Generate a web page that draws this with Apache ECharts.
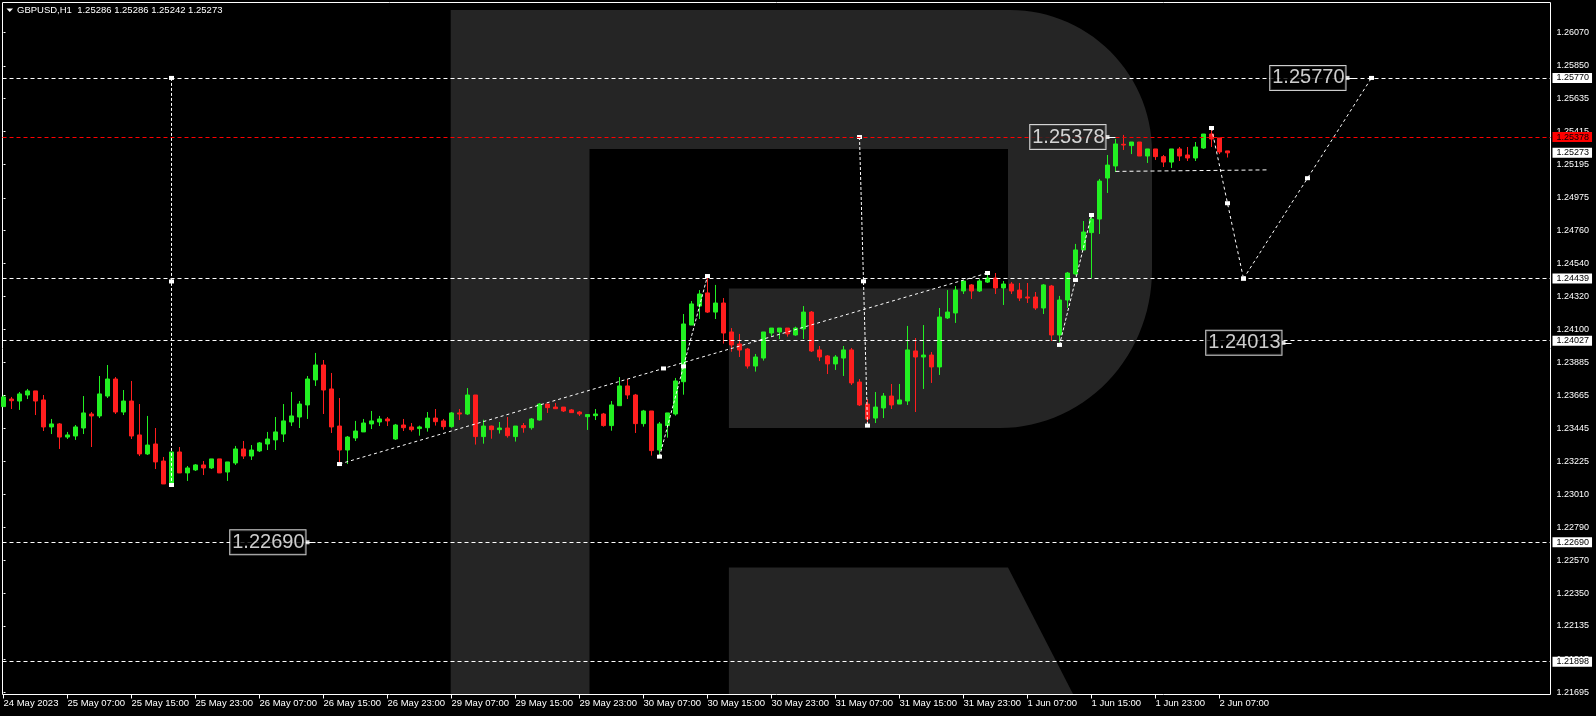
<!DOCTYPE html>
<html>
<head>
<meta charset="utf-8">
<script src="https://cdn.jsdelivr.net/npm/echarts@6.0.0/dist/echarts.min.js"></script>
<style>
html,body{margin:0;padding:0;background:#000;}
#chart{width:1596px;height:716px;}
</style>
</head>
<body>
<div id="chart"></div>
<script>
// ---------------- DATA ----------------
const symbolName = 'GBPUSD';
const timeframe = 'H1';

// x-axis tick labels, one every 8 hourly bars starting at bar 0 (24 May 2023 23:00)
const tickLabels = ['24 May 2023','25 May 07:00','25 May 15:00','25 May 23:00','26 May 07:00','26 May 15:00',
  '26 May 23:00','29 May 07:00','29 May 15:00','29 May 23:00','30 May 07:00','30 May 15:00','30 May 23:00',
  '31 May 07:00','31 May 15:00','31 May 23:00','1 Jun 07:00','1 Jun 15:00','1 Jun 23:00','2 Jun 07:00'];
const tickStep = 8;

// y-axis tick labels (as printed by the terminal)
const yTicks = [1.26070,1.25850,1.25635,1.25415,1.25195,1.24975,1.24760,1.24540,1.24320,1.24100,
  1.23885,1.23665,1.23445,1.23225,1.23010,1.22790,1.22570,1.22350,1.22135,1.21915,1.21695];

// hourly candles
const open = [
1.23590,1.23640,1.23627,1.23667,1.23694,1.23634,1.23455,1.23475,1.23388,1.23395,
1.23448,1.23541,1.23528,1.23660,1.23773,1.23554,1.23627,1.23402,1.23276,1.23342,
1.23229,1.23077,1.23289,1.23150,1.23170,1.23203,1.23183,1.23243,1.23156,1.23216,
1.23309,1.23262,1.23296,1.23342,1.23369,1.23408,1.23488,1.23521,1.23601,1.23767,
1.23866,1.23707,1.23461,1.23302,1.23382,1.23422,1.23475,1.23488,1.23508,1.23375,
1.23468,1.23455,1.23444,1.23450,1.23514,1.23495,1.23457,1.23548,1.23541,1.23667,
1.23391,1.23461,1.23437,1.23448,1.23391,1.23464,1.23450,1.23501,1.23607,1.23587,
1.23587,1.23568,1.23554,1.23523,1.23530,1.23541,1.23464,1.23596,1.23727,1.23667,
1.23477,1.23561,1.23302,1.23464,1.23541,1.23755,1.24131,1.24257,1.24344,1.24217,
1.24277,1.24085,1.24005,1.23972,1.23859,1.23912,1.24078,1.24085,1.24111,1.24065,
1.24105,1.24217,1.23966,1.23926,1.23873,1.23912,1.23966,1.23753,1.23607,1.23514,
1.23581,1.23660,1.23607,1.23627,1.23959,1.23919,1.23932,1.23853,1.24178,1.24211,
1.24357,1.24397,1.24357,1.24416,1.24443,1.24377,1.24403,1.24363,1.24317,1.24317,
1.24244,1.24390,1.24065,1.24297,1.24470,1.24629,1.24744,1.24834,1.25106,1.25186,
1.25330,1.25321,1.25345,1.25252,1.25299,1.25248,1.25212,1.25299,1.25259,1.25239,
1.25305,1.25398,1.25372,1.25286];
const close = [
1.23654,1.23629,1.23674,1.23694,1.23627,1.23455,1.23475,1.23388,1.23402,1.23455,
1.23548,1.23528,1.23674,1.23773,1.23554,1.23627,1.23395,1.23276,1.23335,1.23223,
1.23077,1.23289,1.23150,1.23183,1.23203,1.23183,1.23243,1.23150,1.23223,1.23309,
1.23262,1.23302,1.23349,1.23375,1.23422,1.23495,1.23528,1.23607,1.23773,1.23866,
1.23700,1.23455,1.23302,1.23388,1.23428,1.23481,1.23495,1.23508,1.23495,1.23468,
1.23450,1.23437,1.23455,1.23514,1.23490,1.23457,1.23548,1.23541,1.23667,1.23391,
1.23461,1.23437,1.23448,1.23397,1.23461,1.23450,1.23508,1.23607,1.23583,1.23576,
1.23561,1.23550,1.23541,1.23537,1.23541,1.23464,1.23601,1.23727,1.23667,1.23477,
1.23561,1.23298,1.23475,1.23548,1.23760,1.24138,1.24271,1.24337,1.24217,1.24277,
1.24078,1.23999,1.23965,1.23859,1.23919,1.24085,1.24111,1.24111,1.24072,1.24111,
1.24217,1.23959,1.23919,1.23873,1.23919,1.23966,1.23747,1.23601,1.23508,1.23587,
1.23660,1.23601,1.23634,1.23966,1.23919,1.23932,1.23853,1.24184,1.24217,1.24363,
1.24423,1.24357,1.24423,1.24443,1.24377,1.24403,1.24357,1.24310,1.24310,1.24244,
1.24397,1.24065,1.24297,1.24476,1.24629,1.24748,1.24834,1.25086,1.25192,1.25332,
1.25325,1.25345,1.25252,1.25299,1.25248,1.25212,1.25299,1.25252,1.25239,1.25312,
1.25398,1.25365,1.25279,1.25273];
const low = [
1.23590,1.23574,1.23568,1.23640,1.23534,1.23428,1.23408,1.23309,1.23375,1.23369,
1.23408,1.23322,1.23514,1.23647,1.23541,1.23534,1.23375,1.23262,1.23269,1.23176,
1.23077,1.23070,1.23150,1.23097,1.23163,1.23136,1.23176,1.23150,1.23097,1.23203,
1.23243,1.23236,1.23289,1.23302,1.23302,1.23355,1.23461,1.23448,1.23508,1.23727,
1.23541,1.23415,1.23209,1.23209,1.23362,1.23422,1.23441,1.23461,1.23461,1.23369,
1.23428,1.23424,1.23397,1.23424,1.23464,1.23437,1.23450,1.23501,1.23534,1.23338,
1.23344,1.23377,1.23411,1.23384,1.23358,1.23417,1.23437,1.23497,1.23548,1.23574,
1.23554,1.23548,1.23528,1.23435,1.23501,1.23457,1.23430,1.23596,1.23640,1.23415,
1.23457,1.23265,1.23258,1.23384,1.23530,1.23669,1.24131,1.24171,1.24211,1.24171,
1.24008,1.23954,1.23919,1.23842,1.23822,1.23895,1.24058,1.24038,1.24054,1.24060,
1.24038,1.23952,1.23892,1.23806,1.23833,1.23793,1.23733,1.23594,1.23464,1.23481,
1.23514,1.23574,1.23607,1.23601,1.23554,1.23707,1.23747,1.23800,1.24171,1.24145,
1.24337,1.24304,1.24350,1.24410,1.24337,1.24264,1.24337,1.24290,1.24277,1.24231,
1.24204,1.24025,1.24020,1.24244,1.24460,1.24629,1.24441,1.24735,1.25007,1.25146,
1.25292,1.25265,1.25252,1.25206,1.25226,1.25179,1.25173,1.25219,1.25219,1.25219,
1.25299,1.25312,1.25265,1.25242];
const high = [
1.23667,1.23654,1.23687,1.23707,1.23694,1.23667,1.23508,1.23481,1.23422,1.23468,
1.23660,1.23554,1.23793,1.23866,1.23786,1.23700,1.23760,1.23607,1.23528,1.23448,
1.23256,1.23289,1.23322,1.23196,1.23209,1.23229,1.23243,1.23243,1.23223,1.23329,
1.23362,1.23335,1.23355,1.23422,1.23521,1.23607,1.23687,1.23627,1.23793,1.23946,
1.23899,1.23813,1.23647,1.23395,1.23495,1.23508,1.23561,1.23528,1.23521,1.23475,
1.23508,1.23481,1.23464,1.23554,1.23574,1.23508,1.23554,1.23574,1.23713,1.23667,
1.23503,1.23464,1.23488,1.23521,1.23461,1.23481,1.23514,1.23614,1.23607,1.23614,
1.23587,1.23574,1.23561,1.23541,1.23574,1.23548,1.23627,1.23786,1.23773,1.23674,
1.23568,1.23561,1.23488,1.23548,1.23780,1.24204,1.24290,1.24363,1.24456,1.24397,
1.24310,1.24111,1.24072,1.23979,1.23939,1.24085,1.24111,1.24111,1.24111,1.24120,
1.24257,1.24224,1.23992,1.23932,1.23932,1.23992,1.23979,1.23773,1.23640,1.23687,
1.23680,1.23740,1.23740,1.24125,1.24045,1.24131,1.23952,1.24244,1.24363,1.24390,
1.24423,1.24403,1.24436,1.24476,1.24476,1.24423,1.24416,1.24410,1.24410,1.24350,
1.24403,1.24397,1.24324,1.24483,1.24669,1.24821,1.24850,1.25100,1.25259,1.25365,
1.25392,1.25345,1.25345,1.25299,1.25299,1.25259,1.25299,1.25312,1.25312,1.25345,
1.25398,1.25438,1.25372,1.25286];

// horizontal levels
const levelLines = [1.25770, 1.24439, 1.24027, 1.22690, 1.21898];
const askLine = 1.25378;
const bidPrice = 1.25273;

// analyst's drawn lines: [bar index, price] (start, middle handle, end)
const projVert1   = [[21,1.25770],[21,1.24420],[21,1.23070]];
const projVert2   = [[107,1.25378],[107.5,1.24421],[108,1.23464]];
const trendLong   = [[42,1.23209],[82.5,1.23843],[123,1.24476]];
const swingUp1    = [[82,1.23258],[85,1.23857],[88,1.24456]];
const swingUp2    = [[132,1.23999],[134,1.24430],[136,1.24861]];
const rangeLow    = [[139,1.25150],[158,1.25160]];
const forecastDn  = [[151,1.25438],[153,1.24939],[155,1.24439]];
const forecastUp  = [[155,1.24439],[163,1.25105],[171,1.25770]];

// price-label objects: [bar index, price]
const priceLabels = [[138,1.25378],[168,1.25770],[160,1.24013],[38,1.22690]];

// ---------------- STYLE ----------------
const FONT = "'Liberation Sans', Arial, sans-serif";
const GREEN = '#22f022';
const RED = '#ff1e1e';
const LOGO = '#252525';
const priceLabelBg = [LOGO, '#000', '#000', '#000'];

const xMin = -0.125, xMax = 193.375;
const yMin = 1.216804, yMax = 1.262703;

const candleData = open.map((o, i) => [i, o, close[i], low[i], high[i]]);
const n = open.length;
const last = n - 1;
const headerText = symbolName + ',' + timeframe + '  ' +
  [open[last], high[last], low[last], close[last]].map(v => v.toFixed(5)).join(' ');

// watermark "R" outline (decoration, pixel geometry)
function arcPts(cx, cy, rx, ry, a0, a1, steps) {
  const pts = [];
  for (let k = 0; k <= steps; k++) {
    const a = (a0 + (a1 - a0) * k / steps) * Math.PI / 180;
    pts.push([cx + rx * Math.cos(a), cy + ry * Math.sin(a)]);
  }
  return pts;
}
const logoBowl = [[450.7, 10], [1010, 10]]
  .concat(arcPts(1010, 152, 142, 142, -90, 0, 30))
  .concat([[1152, 270]])
  .concat(arcPts(1000, 270, 152, 158, 0, 90, 30))
  .concat([[728.9, 428], [728.9, 288.6], [1008, 288.6], [1008, 148.9], [589.5, 148.9], [589.5, 694], [450.7, 694]]);
const logoLeg = [[728.9, 567.6], [1008, 567.6], [1073, 694], [728.9, 694]];

function axisBox(bg) {
  return {
    show: true, position: 'end', distance: 2,
    formatter: p => Number(p.value).toFixed(5),
    backgroundColor: bg, color: '#000', fontSize: 9, fontFamily: FONT,
    padding: [1, 3, 0, 4], lineHeight: 9
  };
}

function drawnLine(pts, dash, marks) {
  return {
    type: 'line', data: pts, silent: true, animation: false, z: 4,
    symbol: 'rect', symbolSize: [5, 4], showSymbol: marks, showAllSymbol: true,
    itemStyle: { color: '#fff' },
    lineStyle: { color: '#fff', width: 1, type: dash },
    emphasis: { disabled: true }
  };
}

const chart = echarts.init(document.getElementById('chart'), null, { renderer: 'canvas' });

const option = {
  backgroundColor: '#000',
  animation: false,
  title: {
    text: headerText, left: 17, top: 4, padding: 0,
    textStyle: { color: '#fff', fontSize: 9.5, fontWeight: 'normal', fontFamily: FONT, lineHeight: 12 }
  },
  graphic: [
    { type: 'polygon', silent: true, z: -10, shape: { points: logoBowl }, style: { fill: LOGO } },
    { type: 'polygon', silent: true, z: -10, shape: { points: logoLeg }, style: { fill: LOGO } },
    { type: 'polygon', silent: true, shape: { points: [[6.5, 8.5], [13, 8.5], [9.75, 12]] }, style: { fill: '#fff' } }
  ],
  grid: {
    left: 2.5, top: 2.5, width: 1548, height: 692,
    show: true, borderColor: '#fff', borderWidth: 1, backgroundColor: 'transparent'
  },
  xAxis: {
    type: 'value', min: xMin, max: xMax,
    axisLine: { show: false }, splitLine: { show: false },
    axisTick: { show: true, customValues: tickLabels.map((_, k) => k * tickStep), length: 4, lineStyle: { color: '#fff' } },
    axisLabel: {
      show: true, customValues: tickLabels.map((_, k) => k * tickStep),
      formatter: v => tickLabels[Math.round(v / tickStep)],
      align: 'left', color: '#fff', fontSize: 9.5, margin: 4, fontFamily: FONT
    }
  },
  yAxis: {
    type: 'value', position: 'right', min: yMin, max: yMax,
    axisLine: { show: false }, splitLine: { show: false },
    axisTick: { show: true, customValues: yTicks, length: 2, lineStyle: { color: '#fff' } },
    axisLabel: { customValues: yTicks, formatter: v => v.toFixed(5), color: '#fff', fontSize: 9, margin: 6, fontFamily: FONT }
  },
  series: [
    {
      type: 'line', data: [], silent: true, clip: false, z: 3,
      markLine: {
        silent: true, animation: false, symbol: ['none', 'none'], precision: 5,
        data: [
          ...levelLines.map(p => ({ yAxis: p, lineStyle: { color: '#fff', width: 1, type: [4, 3] }, label: axisBox('#fff') })),
          { yAxis: askLine, lineStyle: { color: '#ff0000', width: 1, type: [4, 3] }, label: axisBox('#ff0000') },
          { yAxis: bidPrice, lineStyle: { color: 'rgba(0,0,0,0)', width: 0 }, label: axisBox('#fff') }
        ]
      }
    },
    {
      type: 'candlestick', data: candleData, barWidth: 4, silent: true, z: 2,
      itemStyle: { color: GREEN, color0: RED, borderColor: GREEN, borderColor0: RED, borderWidth: 1 }
    },
    drawnLine(projVert1, [3, 2], true),
    drawnLine(projVert2, [3, 2], true),
    drawnLine(trendLong, [3, 3], true),
    drawnLine(swingUp1, [3, 2], true),
    drawnLine(swingUp2, [3, 2], true),
    drawnLine(rangeLow, [4, 3], false),
    drawnLine(forecastDn, [3, 3], true),
    drawnLine(forecastUp, [3, 3], true),
    {
      type: 'scatter', silent: true, z: 5, clip: false,
      data: priceLabels.map((d, k) => ({ value: d, label: { backgroundColor: priceLabelBg[k] } })),
      symbol: 'rect', symbolSize: [4, 4], itemStyle: { color: '#fff' },
      label: {
        show: true, position: 'left', distance: 0,
        formatter: p => p.value[1].toFixed(5),
        color: '#fff', fontSize: 20, fontFamily: FONT, lineHeight: 22,
        borderColor: '#fff', borderWidth: 1, padding: [2, 1, 0, 2]
      },
      markLine: {
        silent: true, animation: false, symbol: ['none', 'none'], precision: 5,
        lineStyle: { color: '#fff', width: 1, type: 'solid' },
        label: { show: false },
        data: priceLabels.map(d => [{ coord: [d[0], d[1]] }, { coord: [d[0] + 1, d[1]] }])
      }
    }
  ]
};
chart.setOption(option);
</script>
</body>
</html>
